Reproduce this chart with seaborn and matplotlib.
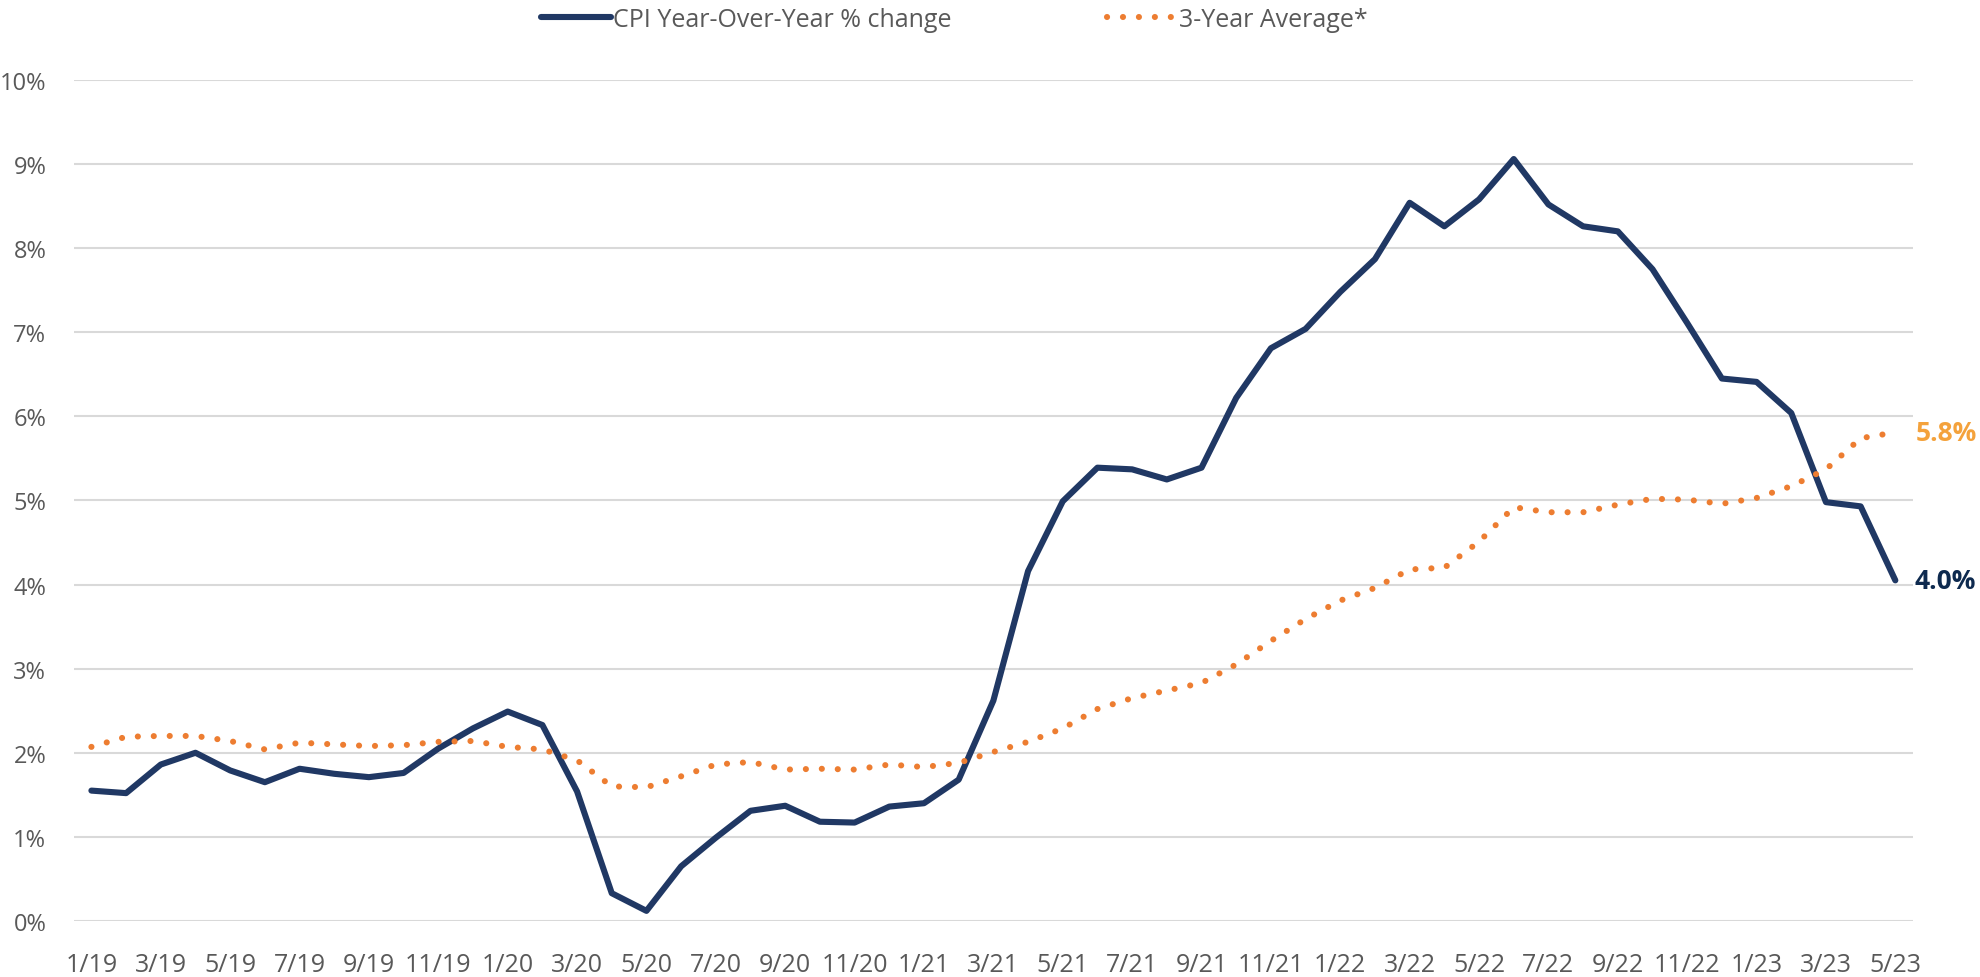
import matplotlib
matplotlib.use("Agg")
import matplotlib.pyplot as plt
from matplotlib import font_manager
import seaborn as sns
import pandas as pd

# monthly CPI data, 1/19 .. 5/23
years = [19, 20, 21, 22, 23]
months = [f"{m}/{y}" for y in years for m in range(1, 13)][:53]

cpi_yoy = [1.55, 1.52, 1.86, 2.00, 1.79, 1.65, 1.81, 1.75, 1.71, 1.76, 2.05, 2.29,
           2.49, 2.33, 1.54, 0.33, 0.12, 0.65, 0.99, 1.31, 1.37, 1.18, 1.17, 1.36,
           1.40, 1.68, 2.62, 4.16, 4.99, 5.39, 5.37, 5.25, 5.39, 6.22, 6.81, 7.04,
           7.48, 7.87, 8.54, 8.26, 8.58, 9.06, 8.52, 8.26, 8.20, 7.75, 7.11, 6.45,
           6.41, 6.04, 4.98, 4.93, 4.05]

avg_3yr = [2.07, 2.19, 2.20, 2.20, 2.14, 2.04, 2.12, 2.10, 2.08, 2.09, 2.13, 2.14,
           2.07, 2.04, 1.91, 1.60, 1.59, 1.72, 1.86, 1.89, 1.80, 1.81, 1.80, 1.86,
           1.83, 1.88, 2.01, 2.13, 2.29, 2.52, 2.65, 2.74, 2.83, 3.05, 3.33, 3.59,
           3.81, 3.96, 4.18, 4.20, 4.51, 4.92, 4.86, 4.86, 4.95, 5.02, 5.01, 4.96,
           5.03, 5.17, 5.37, 5.74, 5.81]

y_ticks = [0, 1, 2, 3, 4, 5, 6, 7, 8, 9, 10]

NAVY = "#203864"
ORANGE = "#ED7D31"
GREY = "#595959"

sns.set_style("white")
available = {f.name for f in font_manager.fontManager.ttflist}
family = "DejaVu Sans"
for cand in ["Liberation Sans Narrow", "DejaVu Sans Condensed", "Open Sans", "Lato"]:
    if cand in available:
        family = cand
        break
plt.rcParams["font.family"] = [family, "DejaVu Sans"]

df = pd.DataFrame({"x": range(len(months)), "cpi": cpi_yoy, "avg": avg_3yr})

fig = plt.figure(figsize=(19.8, 9.78), dpi=100)
ax = fig.add_axes([0.0374, 0.0573, 0.9286, 0.8599])

sns.lineplot(data=df, x="x", y="cpi", ax=ax, color=NAVY, linewidth=4.4,
             label="CPI Year-Over-Year % change")
sns.lineplot(data=df, x="x", y="avg", ax=ax, color=ORANGE, linewidth=4.4,
             linestyle=(0, (0.01, 2.6)), dash_capstyle="round",
             label="3-Year Average*")
ax.lines[1].set_dash_capstyle("round")

ax.set_xlim(-0.5, 52.5)
ax.set_ylim(0, 10)
ax.set_yticks(y_ticks)
ax.set_yticklabels([f"{t}%" for t in y_ticks])
ax.set_xticks(range(0, len(months), 2))
ax.set_xticklabels(months[::2])
ax.tick_params(axis="both", length=0, labelsize=18, colors=GREY)
ax.tick_params(axis="x", pad=22)
ax.tick_params(axis="y", pad=20, labelsize=17)
ax.grid(axis="y", color="#D9D9D9", linewidth=1.5)
ax.set_axisbelow(True)
ax.set_xlabel("")
ax.set_ylabel("")
for s in ax.spines.values():
    s.set_visible(False)

# end labels
ax.annotate(f"{avg_3yr[-1]:.1f}%", xy=(52, avg_3yr[-1]), xytext=(15, 0),
            textcoords="offset points", color="#F4A23C", fontsize=19,
            fontweight="bold", va="center", ha="left", annotation_clip=False)
ax.annotate(f"{cpi_yoy[-1]:.1f}%", xy=(52, cpi_yoy[-1]), xytext=(14, 0),
            textcoords="offset points", color="#0E2A4F", fontsize=19,
            fontweight="bold", va="center", ha="left", annotation_clip=False)

leg = ax.legend(loc="center", bbox_to_anchor=(0.482, 0.979),
                bbox_transform=fig.transFigure, ncol=2, frameon=False,
                fontsize=18, handlelength=2.8, handletextpad=0.1,
                columnspacing=6.2, labelcolor=GREY)

fig.savefig("out.png", dpi=100)
